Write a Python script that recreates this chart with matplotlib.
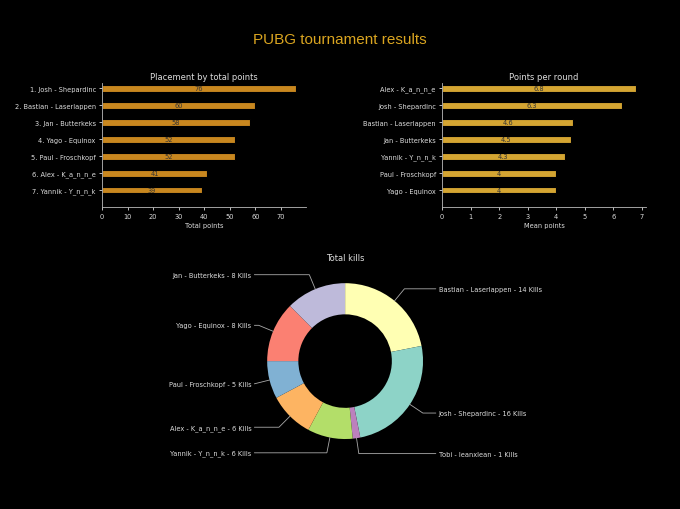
import numpy as np
import matplotlib.pyplot as plt

# placement by total points
players_total = ["1. Josh - Shepardinc", "2. Bastian - Laserlappen", "3. Jan - Butterkeks",
                 "4. Yago - Equinox", "5. Paul - Froschkopf", "6. Alex - K_a_n_n_e",
                 "7. Yannik - Y_n_n_k"]
total_points = [76, 60, 58, 52, 52, 41, 39]

# mean points per round
players_mean = ["Alex - K_a_n_n_e", "Josh - Shepardinc", "Bastian - Laserlappen",
                "Jan - Butterkeks", "Yannik - Y_n_n_k", "Paul - Froschkopf", "Yago - Equinox"]
mean_points = [6.8, 6.3, 4.6, 4.5, 4.3, 4, 4]

# kills
kill_players = ["Bastian - Laserlappen", "Josh - Shepardinc", "Tobi - leanxlean",
                "Yannik - Y_n_n_k", "Alex - K_a_n_n_e", "Paul - Froschkopf",
                "Yago - Equinox", "Jan - Butterkeks"]
kills = [14, 16, 1, 6, 6, 5, 8, 8]
kill_colors = ["#ffffb3", "#8dd3c7", "#bc80bd", "#b3de69", "#fdb462", "#80b1d3",
               "#fb8072", "#bebada"]

plt.style.use("dark_background")
fig = plt.figure(figsize=(6.8, 5.1), dpi=100)
fig.suptitle("PUBG tournament results", color="#daa520", fontsize=11,
             family="Liberation Sans", y=0.935)

fs = 4.8


def bar_chart(ax, labels, values, color, title, xlabel):
    y = np.arange(len(values))
    bars = ax.barh(y, values, height=0.4, color=color, edgecolor="black", linewidth=0.8)
    ax.bar_label(bars, labels=[f"{v:g}" for v in values], label_type="center",
                 fontsize=fs, color="#333333")
    ax.set_yticks(y)
    ax.set_yticklabels(labels)
    ax.set_ylim(7.0, -0.3)
    ax.set_title(title, fontsize=6, color="#dddddd", pad=3)
    ax.set_xlabel(xlabel, fontsize=fs, color="#dddddd", labelpad=2)
    ax.tick_params(labelsize=fs, colors="#dddddd", length=2.5, width=0.6, pad=2)
    for s in ["top", "right"]:
        ax.spines[s].set_visible(False)
    for s in ["left", "bottom"]:
        ax.spines[s].set_color("#bbbbbb")
        ax.spines[s].set_linewidth(0.6)


ax1 = fig.add_axes([0.15, 0.592, 0.30, 0.243])
bar_chart(ax1, players_total, total_points, "#c8871f", "Placement by total points", "Total points")

ax2 = fig.add_axes([0.65, 0.592, 0.30, 0.243])
bar_chart(ax2, players_mean, mean_points, "#d4a532", "Points per round", "Mean points")

ax3 = fig.add_axes([0.364, 0.099, 0.287, 0.382])
wedges, _ = ax3.pie(kills, colors=kill_colors, startangle=90, counterclock=False,
                    wedgeprops=dict(width=0.4))
ax3.set_title("Total kills", fontsize=6, color="#dddddd", pad=3)

for w, name, k in zip(wedges, kill_players, kills):
    ang = (w.theta2 - w.theta1) / 2. + w.theta1
    y = np.sin(np.deg2rad(ang))
    x = np.cos(np.deg2rad(ang))
    ha = {-1: "right", 1: "left"}[int(np.sign(x))]
    ax3.annotate(f"{name} - {k} Kills", xy=(x, y), xytext=(1.2 * np.sign(x), 1.2 * y),
                 ha=ha, va="center", fontsize=fs, color="#dddddd",
                 arrowprops=dict(arrowstyle="-", color="#aaaaaa", linewidth=0.6,
                                 shrinkA=0, shrinkB=0,
                                 connectionstyle=f"angle,angleA=0,angleB={ang}"))

fig.savefig("out.png", dpi=100, facecolor="black")
